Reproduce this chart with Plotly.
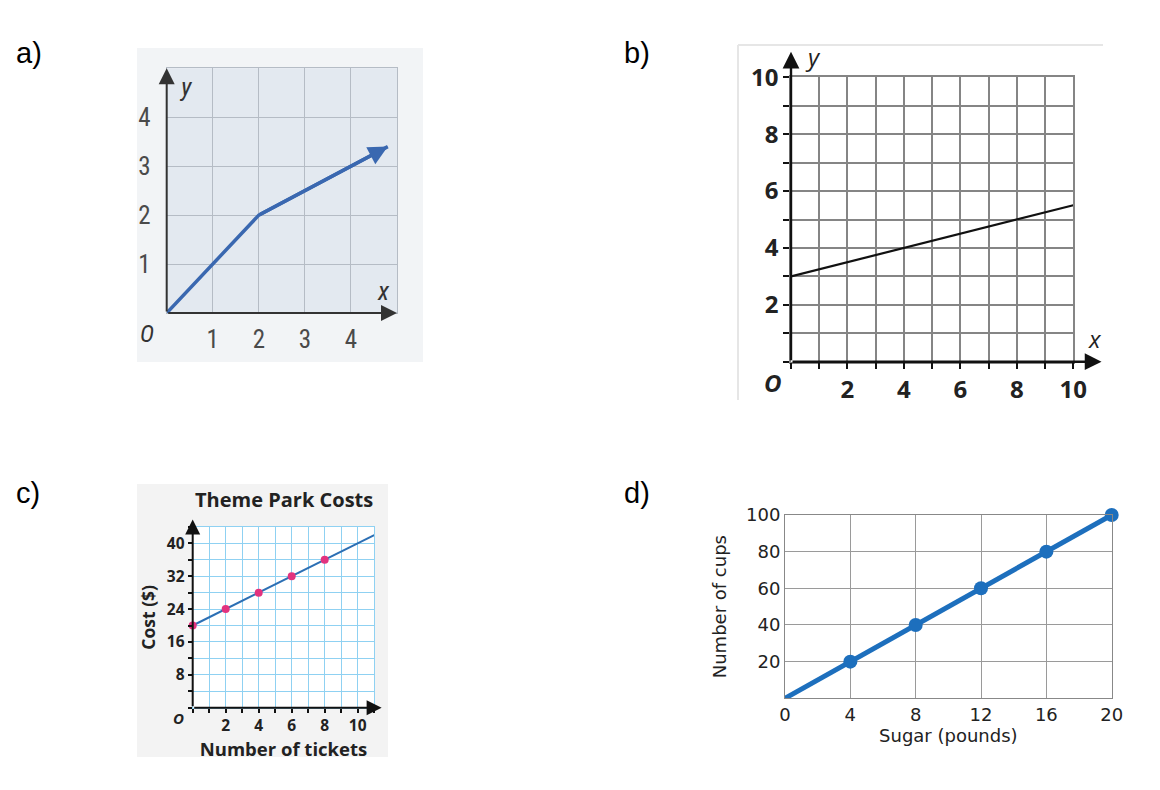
import plotly.graph_objects as go

W, H = 1160, 790

# ---------------- data ----------------
# Panel a
a_x = [0, 2, 4.8]
a_y = [0, 2, 3.4]
a_ticks = [1, 2, 3, 4]

# Panel b
b_x = [0, 10]
b_y = [3, 5.5]
b_tickvals = [0, 1, 2, 3, 4, 5, 6, 7, 8, 9, 10]
b_ticktext = ["", "", "2", "", "4", "", "6", "", "8", "", "10"]

# Panel c
c_tickets = [0, 2, 4, 6, 8]
c_cost = [20, 24, 28, 32, 36]
c_line_x = [0, 11]
c_line_y = [20, 42]
c_xtickvals = [0, 1, 2, 3, 4, 5, 6, 7, 8, 9, 10, 11]
c_xticktext = ["", "", "2", "", "4", "", "6", "", "8", "", "10", ""]
c_ytickvals = [0, 4, 8, 12, 16, 20, 24, 28, 32, 36, 40, 44]
c_yticktext = ["", "", "8", "", "16", "", "24", "", "32", "", "40", ""]

# Panel d
d_sugar = [0, 4, 8, 12, 16, 20]
d_cups = [0, 20, 40, 60, 80, 100]
d_xtickvals = [0, 4, 8, 12, 16, 20]
d_ytickvals = [0, 20, 40, 60, 80, 100]
d_yticktext = ["", "20", "40", "60", "80", "100"]


def fx(p):
    return p / W


def fy(p):
    return 1 - p / H


A_FONT = "Liberation Sans Narrow, Roboto Condensed, Roboto, sans-serif"
B_FONT = "Open Sans, Lato, sans-serif"
D_FONT = "DejaVu Sans, Verdana, sans-serif"
LBL_FONT = "Liberation Sans, Arial, sans-serif"

fig = go.Figure()

# ---- traces ----
fig.add_trace(go.Scatter(x=a_x, y=a_y, mode="lines", xaxis="x", yaxis="y",
                         line=dict(color="#3a68b0", width=3.5), cliponaxis=False))
fig.add_trace(go.Scatter(x=b_x, y=b_y, mode="lines", xaxis="x2", yaxis="y2",
                         line=dict(color="#111111", width=2.2), cliponaxis=False))
fig.add_trace(go.Scatter(x=c_line_x, y=c_line_y, mode="lines", xaxis="x3", yaxis="y3",
                         line=dict(color="#2c6fb4", width=2), cliponaxis=False))
fig.add_trace(go.Scatter(x=c_tickets, y=c_cost, mode="markers", xaxis="x3", yaxis="y3",
                         marker=dict(color="#e2337f", size=8, opacity=1, line=dict(width=0)),
                         cliponaxis=False))
fig.add_trace(go.Scatter(x=d_sugar, y=d_cups, mode="lines+markers", xaxis="x4", yaxis="y4",
                         line=dict(color="#1d6fbd", width=5),
                         marker=dict(color="#1d6fbd", size=[0, 14, 14, 14, 14, 14],
                                     opacity=1, line=dict(width=0)),
                         cliponaxis=False))


def base_axis(**kw):
    d = dict(zeroline=False, automargin=False, fixedrange=True, showline=True, mirror=True)
    d.update(kw)
    return d


layout = dict(
    width=W, height=H, margin=dict(l=0, r=0, t=0, b=0),
    paper_bgcolor="white", plot_bgcolor="rgba(0,0,0,0)", showlegend=False,
    # panel a
    xaxis=base_axis(domain=[fx(166.7), fx(397)], range=[0, 5], anchor="y",
                    tickmode="array", tickvals=a_ticks, ticks="", showgrid=True,
                    gridcolor="#b5bcc5", gridwidth=1, linecolor="#b5bcc5",
                    ticklabelstandoff=4,
                    tickfont=dict(family=A_FONT, size=25, color="#4a4a4a")),
    yaxis=base_axis(domain=[fy(313), fy(68.3)], range=[0, 5], anchor="x",
                    tickmode="array", tickvals=a_ticks, ticks="", showgrid=True,
                    gridcolor="#b5bcc5", gridwidth=1, linecolor="#b5bcc5",
                    ticklabelstandoff=10,
                    tickfont=dict(family=A_FONT, size=25, color="#4a4a4a")),
    # panel b
    xaxis2=base_axis(domain=[fx(791), fx(1073.3)], range=[0, 10], anchor="y2",
                     tickmode="array", tickvals=b_tickvals, ticktext=b_ticktext,
                     ticks="outside", ticklen=6, tickwidth=2, tickcolor="#111",
                     showgrid=True, gridcolor="#858585", gridwidth=1.5, linecolor="#858585",
                     linewidth=1.5,
                     tickfont=dict(family=B_FONT, size=24, color="#222", weight="bold")),
    yaxis2=base_axis(domain=[fy(361.7), fy(77.3)], range=[0, 10], anchor="x2",
                     tickmode="array", tickvals=b_tickvals, ticktext=b_ticktext,
                     ticks="outside", ticklen=6, tickwidth=2, tickcolor="#111",
                     showgrid=True, gridcolor="#858585", gridwidth=1.5, linecolor="#858585",
                     linewidth=1.5,
                     tickfont=dict(family=B_FONT, size=24, color="#222", weight="bold")),
    # panel c
    xaxis3=base_axis(domain=[fx(192.7), fx(374.2)], range=[0, 11], anchor="y3",
                     tickmode="array", tickvals=c_xtickvals, ticktext=c_xticktext,
                     ticks="outside", ticklen=4, tickwidth=1.5, tickcolor="#111",
                     showgrid=True, gridcolor="#8fd1f2", gridwidth=1, linecolor="#8fd1f2",
                     tickfont=dict(family=B_FONT, size=15.5, color="#222", weight="bold"),
                     title=dict(text="Number of tickets", standoff=2,
                                font=dict(family=B_FONT, size=18.5, color="#222", weight="bold"))),
    yaxis3=base_axis(domain=[fy(707.7), fy(526.9)], range=[0, 44], anchor="x3",
                     tickmode="array", tickvals=c_ytickvals, ticktext=c_yticktext,
                     ticks="outside", ticklen=4, tickwidth=1.5, tickcolor="#111",
                     showgrid=True, gridcolor="#8fd1f2", gridwidth=1, linecolor="#8fd1f2",
                     tickfont=dict(family=B_FONT, size=15.5, color="#222", weight="bold"),
                     title=dict(text="Cost ($)", standoff=6,
                                font=dict(family=B_FONT, size=17.5, color="#222", weight="bold"))),
    # panel d
    xaxis4=base_axis(domain=[fx(785), fx(1111.7)], range=[0, 20], anchor="y4",
                     tickmode="array", tickvals=d_xtickvals, ticks="",
                     showgrid=True, gridcolor="#9a9a9a", gridwidth=1, linecolor="#888888",
                     tickfont=dict(family=D_FONT, size=18, color="#222"),
                     title=dict(text="Sugar (pounds)", standoff=2,
                                font=dict(family=D_FONT, size=18, color="#222"))),
    yaxis4=base_axis(domain=[fy(698.3), fy(515)], range=[0, 100], anchor="x4",
                     tickmode="array", tickvals=d_ytickvals, ticktext=d_yticktext, ticks="",
                     showgrid=True, gridcolor="#9a9a9a", gridwidth=1, linecolor="#888888",
                     ticklabelstandoff=0,
                     tickfont=dict(family=D_FONT, size=18, color="#222"),
                     title=dict(text="Number of cups", standoff=14,
                                font=dict(family=D_FONT, size=18, color="#222"))),
)

shapes = [
    # panel a backgrounds
    dict(type="rect", xref="paper", yref="paper", x0=fx(137), x1=fx(423), y0=fy(362), y1=fy(48),
         fillcolor="#f2f4f6", line=dict(width=0), layer="below"),
    dict(type="rect", xref="x domain", yref="y domain", x0=0, x1=1, y0=0, y1=1,
         fillcolor="#e3e9f0", line=dict(width=0), layer="below"),
    # panel b faint frame
    dict(type="line", xref="paper", yref="paper", x0=fx(738), x1=fx(1103), y0=fy(45), y1=fy(45),
         line=dict(color="#e6e6e6", width=2), layer="below"),
    dict(type="line", xref="paper", yref="paper", x0=fx(738), x1=fx(738), y0=fy(45), y1=fy(400),
         line=dict(color="#e6e6e6", width=2), layer="below"),
    # panel c background
    dict(type="rect", xref="paper", yref="paper", x0=fx(137), x1=fx(388), y0=fy(757), y1=fy(484),
         fillcolor="#f3f3f3", line=dict(width=0), layer="below"),
    dict(type="rect", xref="x3 domain", yref="y3 domain", x0=0, x1=1, y0=0, y1=1,
         fillcolor="white", line=dict(width=0), layer="below"),
]


def arrow(xr, yr, x, y, ax, ay, color, width, size):
    return dict(xref=xr, yref=yr, axref=xr, ayref=yr, x=x, y=y, ax=ax, ay=ay, text="",
                showarrow=True, arrowhead=2, arrowsize=size, arrowwidth=width,
                arrowcolor=color, standoff=0, startstandoff=0)


def txt(x, y, s, family, size, color="#222", italic=False, bold=False, xanchor="center",
        yanchor="middle", angle=0):
    return dict(xref="paper", yref="paper", x=fx(x), y=fy(y), text=s, showarrow=False,
                xanchor=xanchor, yanchor=yanchor, textangle=angle,
                font=dict(family=family, size=size, color=color,
                          style="italic" if italic else "normal",
                          weight="bold" if bold else "normal"))


annotations = [
    # panel labels
    txt(14, 53, "a)", LBL_FONT, 29, "#000", xanchor="left"),
    txt(622, 53, "b)", LBL_FONT, 29, "#000", xanchor="left"),
    txt(14, 493, "c)", LBL_FONT, 29, "#000", xanchor="left"),
    txt(622, 493, "d)", LBL_FONT, 29, "#000", xanchor="left"),
    # panel a
    arrow("x", "y", 5, 0, 0, 0, "#333", 2, 1.6),
    arrow("x", "y", 0, 5, 0, 0, "#333", 2, 1.6),
    arrow("x", "y", a_x[-1], a_y[-1], a_x[-2], a_y[-2], "#3a68b0", 3.5, 1.1),
    txt(186, 87, "y", A_FONT, 26, "#333", italic=True),
    txt(383, 291, "x", A_FONT, 26, "#333", italic=True),
    txt(147, 334, "O", A_FONT, 24, "#333", italic=True),
    # panel b
    arrow("x2", "y2", 11, 0, 0, 0, "#111", 2.4, 1.4),
    arrow("x2", "y2", 0, 10.9, 0, 0, "#111", 2.4, 1.4),
    txt(813, 56, "y", B_FONT, 24, "#222", italic=True),
    txt(1095, 338, "x", B_FONT, 24, "#222", italic=True),
    txt(773, 382, "O", B_FONT, 24, "#222", italic=True, bold=True),
    # panel c
    arrow("x3", "y3", 11.45, 0, 0, 0, "#111", 2, 1.5),
    arrow("x3", "y3", 0, 45.8, 0, 0, "#111", 2, 1.5),
    txt(284, 499, "Theme Park Costs", B_FONT, 20, "#222", bold=True),
    txt(178, 718, "O", B_FONT, 15, "#222", italic=True, bold=True),
]

layout["shapes"] = shapes
layout["annotations"] = annotations
fig.update_layout(**layout)

fig.write_html("out.html", config={"displayModeBar": False},
               post_script="document.body.style.margin='0';document.body.style.padding='0';")
